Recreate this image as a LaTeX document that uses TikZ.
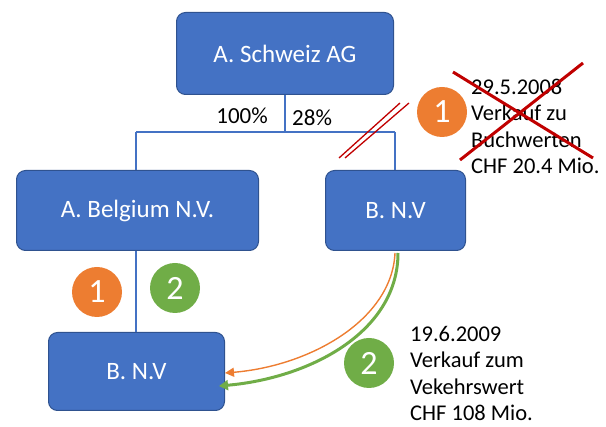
\documentclass[tikz,border=0pt]{standalone}
\usepackage{fontspec}
\setmainfont{Carlito}
\usetikzlibrary{arrows.meta}
\definecolor{boxblue}{HTML}{4472C4}
\definecolor{boxedge}{HTML}{2F528F}
\definecolor{myorange}{HTML}{ED7D31}
\definecolor{mygreen}{HTML}{70AD47}
\definecolor{myred}{HTML}{C00000}
\tikzset{
  company/.style={draw=boxedge, line width=1pt, fill=boxblue, rounded corners=9pt,
    text=white, font=\fontsize{25}{28}\selectfont, anchor=north west, inner sep=0pt},
  link/.style={draw=boxblue, line width=1.2pt},
  badge/.style={circle, text=white, inner sep=0pt, minimum size=#1,
    font=\fontsize{34}{36}\selectfont},
  note/.style={align=left, anchor=north west, inner sep=0pt,
    font=\fontsize{22.5}{26.4}\selectfont},
  pct/.style={font=\fontsize{23}{26}\selectfont, inner sep=0pt},
}
\begin{document}
\begin{tikzpicture}[x=1pt,y=-1pt]
\useasboundingbox (0,0) rectangle (606,427);
% boxes
\node[company, minimum width=217pt, minimum height=82pt] (ag) at (176,12) {A. Schweiz AG};
\node[company, minimum width=242pt, minimum height=80pt] (bel) at (16,170) {A. Belgium N.V.};
\node[company, minimum width=140pt, minimum height=80pt] (bnv) at (325,170) {B. N.V};
\node[company, minimum width=176pt, minimum height=78pt] (bnv2) at (48,332) {B. N.V};
% tree lines
\coordinate (junc) at (285,132);
\coordinate (jl) at (136,132);
\coordinate (jr) at (395,132);
\draw[link] (ag.south -| junc) -- (junc);
\draw[link] (jl) -- (jr);
\draw[link] (jl) -- (jl |- bel.north);
\draw[link] (jr) -- (jr |- bnv.north);
\draw[link] (bel.south -| jl) -- (bnv2.north -| jl);
% percentages
\node[pct, anchor=east] (p100) at (268,116) {100\%};
\node[pct, anchor=west] (p28) at (292,118) {28\%};
% red cut marks
\coordinate (c1a) at (339,158); \coordinate (c1b) at (400,103);
\coordinate (c2a) at (345,158); \coordinate (c2b) at (409,103);
\draw[myred, line width=1.3pt] (c1a) -- (c1b);
\draw[myred, line width=1.3pt] (c2a) -- (c2b);
% badge 1 top right
\node[badge=50pt, fill=myorange] (b1r) at (442,112) {1};
% crossed note
\node[note] (n1) at (471,79) {29.5.2008\\Verkauf zu\\Buchwerten\\CHF 20.4 Mio.};
\coordinate (x1a) at (453,72); \coordinate (x1b) at (593,158);
\coordinate (x2a) at (583,63); \coordinate (x2b) at (460,160);
\draw[myred, line width=3pt] (x1a) -- (x1b);
\draw[myred, line width=3pt] (x2a) -- (x2b);
% badges left
\node[badge=50pt, fill=myorange] (b1l) at (97,292) {1};
\node[badge=50pt, fill=mygreen] (b2l) at (175,288) {2};
% arrows
\coordinate (os) at (395,253);
\coordinate (oe) at (225,373);
\coordinate (gs) at (398,253);
\coordinate (ge) at (219,386);
\draw[myorange, line width=1.4pt, -{Triangle[length=9pt,width=9pt]}]
  (os) .. controls (392,320) and (310,366) .. (oe);
\draw[mygreen, line width=3pt, -{Triangle[length=9pt,width=10pt]}]
  (gs) .. controls (398,332) and (310,378) .. (ge);
% badge 2 bottom
\node[badge=50pt, fill=mygreen] (b2r) at (369,363) {2};
% bottom note
\node[note] (n2) at (410,326) {19.6.2009\\Verkauf zum\\Vekehrswert\\CHF 108 Mio.};
\end{tikzpicture}
\end{document}
